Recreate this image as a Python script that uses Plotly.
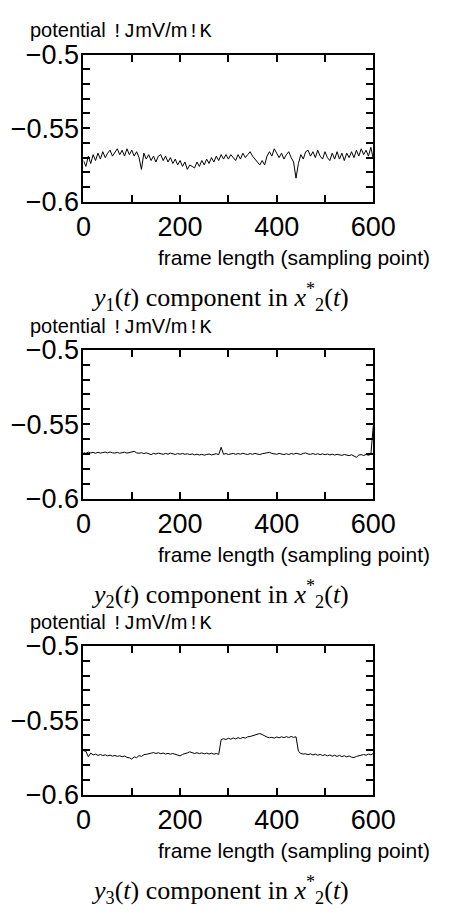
import plotly.graph_objects as go

# ---------------- data ----------------
x_step = 5
y1_values = [
    -0.572, -0.576, -0.569, -0.574, -0.568, -0.572, -0.567, -0.571, -0.566, -0.570,
    -0.567, -0.565, -0.569, -0.566, -0.564, -0.568, -0.565, -0.569, -0.564, -0.568,
    -0.565, -0.569, -0.566, -0.570, -0.578, -0.567, -0.571, -0.568, -0.572, -0.569,
    -0.573, -0.569, -0.568, -0.572, -0.569, -0.573, -0.570, -0.574, -0.571, -0.575,
    -0.572, -0.576, -0.573, -0.578, -0.575, -0.576, -0.577, -0.573, -0.576, -0.572,
    -0.575, -0.571, -0.574, -0.570, -0.573, -0.569, -0.572, -0.568, -0.571, -0.568,
    -0.571, -0.568, -0.570, -0.572, -0.568, -0.571, -0.567, -0.570, -0.568, -0.566,
    -0.569, -0.571, -0.573, -0.575, -0.572, -0.575, -0.569, -0.566, -0.569, -0.564,
    -0.567, -0.570, -0.567, -0.571, -0.568, -0.566, -0.570, -0.573, -0.584, -0.574,
    -0.568, -0.571, -0.566, -0.565, -0.569, -0.566, -0.570, -0.565, -0.569, -0.571,
    -0.566, -0.570, -0.572, -0.567, -0.571, -0.566, -0.571, -0.567, -0.572, -0.567,
    -0.570, -0.566, -0.570, -0.565, -0.569, -0.564, -0.568, -0.565, -0.569, -0.563,
    -0.571,
]
y2_values = [
    -0.5690, -0.5696, -0.5687, -0.5693, -0.5689, -0.5695, -0.5688, -0.5694, -0.5690, -0.5687,
    -0.5693, -0.5686, -0.5692, -0.5694, -0.5689, -0.5695, -0.5691, -0.5688, -0.5694, -0.5689,
    -0.5686, -0.5682, -0.5692, -0.5695, -0.5691, -0.5697, -0.5692, -0.5699, -0.5704, -0.5696,
    -0.5700, -0.5694, -0.5699, -0.5702, -0.5696, -0.5701, -0.5694, -0.5700, -0.5703, -0.5697,
    -0.5701, -0.5696, -0.5702, -0.5698, -0.5704, -0.5699, -0.5706, -0.5701, -0.5707, -0.5702,
    -0.5708, -0.5703, -0.5700, -0.5706, -0.5701, -0.5698, -0.5704, -0.5655, -0.5702, -0.5697,
    -0.5703, -0.5698, -0.5696, -0.5702, -0.5697, -0.5701, -0.5695, -0.5700, -0.5703, -0.5697,
    -0.5702, -0.5696, -0.5701, -0.5704, -0.5698, -0.5695, -0.5693, -0.5689, -0.5696, -0.5699,
    -0.5702, -0.5696, -0.5701, -0.5704, -0.5698, -0.5703, -0.5697, -0.5701, -0.5695, -0.5700,
    -0.5703, -0.5696, -0.5693, -0.5700, -0.5702, -0.5697, -0.5703, -0.5698, -0.5704, -0.5699,
    -0.5705, -0.5700, -0.5706, -0.5701, -0.5707, -0.5702, -0.5706, -0.5709, -0.5703, -0.5708,
    -0.5711, -0.5705, -0.5713, -0.5722, -0.5707, -0.5704, -0.5710, -0.5703, -0.5708, -0.5702,
    -0.5510,
]
y3_values = [
    -0.5705, -0.5708, -0.5745, -0.5720, -0.5733, -0.5727, -0.5736, -0.5730, -0.5737, -0.5732,
    -0.5739, -0.5734, -0.5741, -0.5736, -0.5743, -0.5738, -0.5745, -0.5740, -0.5749, -0.5752,
    -0.5761, -0.5746, -0.5751, -0.5737, -0.5743, -0.5731, -0.5729, -0.5723, -0.5721, -0.5717,
    -0.5723, -0.5718, -0.5725, -0.5720, -0.5727, -0.5722, -0.5728, -0.5723, -0.5730, -0.5733,
    -0.5739, -0.5729, -0.5726, -0.5719, -0.5712, -0.5719, -0.5723, -0.5718, -0.5724, -0.5719,
    -0.5726, -0.5720, -0.5727, -0.5721, -0.5728, -0.5723, -0.5729, -0.5630, -0.5624, -0.5629,
    -0.5621, -0.5627, -0.5619, -0.5625, -0.5617, -0.5623, -0.5615, -0.5620, -0.5611, -0.5609,
    -0.5603, -0.5601, -0.5595, -0.5589, -0.5596, -0.5605, -0.5613, -0.5617, -0.5615, -0.5620,
    -0.5612, -0.5618, -0.5611, -0.5617, -0.5610, -0.5616, -0.5609, -0.5615, -0.5611, -0.5708,
    -0.5723, -0.5727, -0.5725, -0.5731, -0.5725, -0.5733, -0.5727, -0.5735, -0.5729, -0.5737,
    -0.5731, -0.5739, -0.5733, -0.5741, -0.5735, -0.5743, -0.5736, -0.5744, -0.5738, -0.5746,
    -0.5740, -0.5748, -0.5750, -0.5743, -0.5739, -0.5732, -0.5730, -0.5735, -0.5727, -0.5732,
    -0.5722,
]
series = [y1_values, y2_values, y3_values]
subscripts = ["1", "2", "3"]

x_tick_vals = [0, 100, 200, 300, 400, 500, 600]
x_tick_text = ["0", "", "200", "", "400", "", "600"]
y_tick_vals = [-0.60, -0.59, -0.58, -0.57, -0.56, -0.55, -0.54, -0.53, -0.52, -0.51, -0.50]
y_tick_text = ["\u22120.6", "", "", "", "", "\u22120.55", "", "", "", "", "\u22120.5"]

y_label = ("potential <span style=\"font-family:'Liberation Mono';font-size:20px\">!J</span>"
           "mV/m<span style=\"font-family:'Liberation Mono';font-size:20px\">!K</span>")
x_label = "frame length (sampling point)"

# ---------------- layout ----------------
W, H = 455, 921
px_left, px_right = 81, 392
panel_px = [(41, 193), (346, 500), (652, 806)]

fig = go.Figure()
annotations = []
for i, (vals, sub, (top, bot)) in enumerate(zip(series, subscripts, panel_px)):
    n = i + 1
    xs = [k * x_step for k in range(len(vals))]
    fig.add_trace(go.Scatter(
        x=xs, y=vals, mode="lines",
        line=dict(color="black", width=1),
        xaxis=f"x{n}", yaxis=f"y{n}", showlegend=False,
    ))
    dom_y = [1 - bot / H, 1 - top / H]
    common = dict(showline=True, linecolor="black", linewidth=2, mirror="allticks",
                  ticks="inside", ticklen=7, tickwidth=1.5, tickcolor="black",
                  showgrid=False, zeroline=False,
                  tickfont=dict(family="Liberation Sans, Arial, sans-serif", size=27, color="black"))
    fig.update_layout(**{
        f"xaxis{n}": dict(domain=[px_left / W, px_right / W], range=[0, 600], anchor=f"y{n}",
                          tickmode="array", tickvals=x_tick_vals, ticktext=x_tick_text, **common),
        f"yaxis{n}": dict(domain=dom_y, range=[-0.6, -0.5], anchor=f"x{n}",
                          tickmode="array", tickvals=y_tick_vals, ticktext=y_tick_text,
                          ticklabelstandoff=-3, **common),
    })
    annotations.append(dict(xref="paper", yref="paper", x=21 / W, y=1 - (top - 24) / H,
                            xanchor="left", yanchor="middle", showarrow=False, text=y_label,
                            font=dict(family="Liberation Sans, Arial, sans-serif", size=20, color="black")))
    annotations.append(dict(xref="paper", yref="paper", x=455 / W, y=1 - (bot + 58) / H,
                            xanchor="right", yanchor="middle", showarrow=False, text=x_label,
                            font=dict(family="Liberation Sans, Arial, sans-serif", size=21, color="black")))
    cap = (f"<i>y</i><sub>{sub}</sub>(<i>t</i>) component in "
           f"<i>x</i><sup>*</sup><sub>2</sub>(<i>t</i>)")
    annotations.append(dict(xref="paper", yref="paper", x=228 / W, y=1 - (bot + 98) / H,
                            xanchor="center", yanchor="middle", showarrow=False, text=cap,
                            font=dict(family="Liberation Serif, Times New Roman, serif", size=26, color="black")))

fig.update_layout(width=W, height=H, margin=dict(l=0, r=0, t=0, b=0),
                  paper_bgcolor="white", plot_bgcolor="white", annotations=annotations)

fig.write_html("out.html")
